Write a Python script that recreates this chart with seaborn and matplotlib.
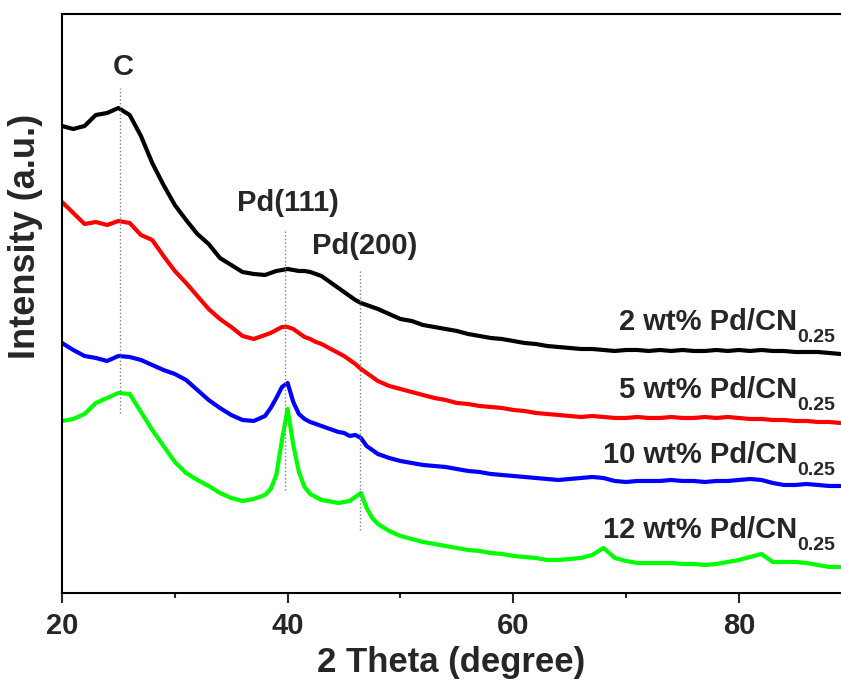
import numpy as np
import pandas as pd
import matplotlib
matplotlib.use('Agg')
import matplotlib.pyplot as plt
import seaborn as sns

# 2 theta grid (degree)
two_theta = ([float(v) for v in range(20, 38)]
             + [38 + 0.5 * i for i in range(21)]
             + [float(v) for v in range(49, 90)])

# intensities (a.u.)
pd2 = [474, 471, 474, 485, 487, 492, 485, 464, 437, 415, 395, 380, 366, 356, 342, 335, 328, 326,
       325, 327, 329, 330, 331, 330, 329, 329, 328, 326, 324, 320, 316, 312, 308, 304, 300, 297, 295, 293, 291,
       286, 281, 279, 275, 273, 271, 269, 266, 264, 262, 261, 259, 257, 256, 254, 253, 252, 251, 251, 250,
       249, 250, 250, 249, 250, 249, 250, 249, 249, 250, 249, 250, 249, 250, 249, 249, 248, 248, 248, 247, 246]
pd5 = [398, 387, 376, 378, 375, 379, 377, 365, 360, 344, 329, 317, 304, 291, 281, 273, 264, 261,
       265, 267, 270, 273, 273, 271, 267, 263, 261, 258, 256, 253, 250, 247, 244, 240, 236, 231, 227, 223, 219,
       214, 211, 208, 205, 202, 200, 197, 196, 194, 193, 192, 190, 189, 187, 186, 185, 184, 183, 184, 183,
       182, 182, 183, 182, 182, 183, 182, 182, 183, 182, 183, 182, 181, 181, 180, 180, 179, 179, 178, 178, 177]
pd10 = [257, 250, 244, 242, 239, 244, 243, 240, 235, 230, 226, 220, 210, 200, 192, 185, 180, 179,
        184, 192, 202, 213, 217, 198, 186, 181, 178, 176, 174, 172, 170, 168, 167, 164, 165, 162, 154, 150, 146,
        142, 139, 137, 135, 134, 133, 131, 129, 128, 126, 125, 124, 123, 122, 121, 120, 121, 122, 123, 122,
        119, 118, 119, 119, 119, 120, 119, 119, 118, 119, 119, 120, 121, 120, 117, 115, 115, 116, 115, 114, 114]
pd12 = [179, 181, 186, 197, 202, 207, 206, 188, 170, 154, 138, 127, 120, 114, 107, 102, 99, 101,
        105, 111, 125, 160, 191, 155, 128, 113, 106, 103, 100, 99, 98, 97, 98, 99, 103, 107, 92, 82, 76,
        69, 64, 61, 58, 56, 54, 52, 50, 49, 47, 46, 44, 43, 42, 40, 40, 41, 42, 45, 52,
        42, 39, 37, 37, 37, 37, 36, 36, 35, 36, 38, 40, 43, 46, 38, 38, 38, 37, 35, 33, 33]

samples = ['2 wt% Pd/CN', '5 wt% Pd/CN', '10 wt% Pd/CN', '12 wt% Pd/CN']
subscript = '0.25'
colors = ['#000000', '#ff0000', '#0000ff', '#00ff00']
label_y = [270, 202, 137, 62]

# reference peaks: name, position, label height, dotted line span
peak_names = ['C', 'Pd(111)', 'Pd(200)']
peak_pos = [25.1, 39.8, 46.4]
peak_label_x = [25.4, 40.0, 46.8]
peak_label_y = [533, 397, 354]
peak_line_top = [512, 370, 330]
peak_line_bottom = [187, 110, 70]

df = pd.DataFrame({'two_theta': two_theta * 4,
                   'intensity': pd2 + pd5 + pd10 + pd12,
                   'sample': np.repeat(samples, len(two_theta))})

sns.set_style('ticks')
plt.rcParams['font.family'] = 'Liberation Sans'
plt.rcParams['font.weight'] = 'bold'

fig = plt.figure(figsize=(8.41, 6.86), dpi=100)
ax = fig.add_axes([0.0737, 0.1356, 0.9263, 0.844])

sns.lineplot(data=df, x='two_theta', y='intensity', hue='sample',
             palette=colors, linewidth=3, legend=False, ax=ax, sort=False)

for name, p, lx, ly, top, bot in zip(peak_names, peak_pos, peak_label_x, peak_label_y,
                                      peak_line_top, peak_line_bottom):
    ax.plot([p, p], [bot, top], color='gray', linestyle=':', linewidth=1)
    ax.text(lx, ly, name, ha='center', va='center', fontsize=21, fontweight='bold')

# sample names, with the subscript as its own smaller text
for s, y in zip(samples, label_y):
    ax.annotate(s, xy=(88.5, y), xytext=(-27, 0), textcoords='offset points',
                ha='right', va='baseline', fontsize=21, fontweight='bold')
    ax.annotate(subscript, xy=(88.5, y), xytext=(0, -8.5), textcoords='offset points',
                ha='right', va='baseline', fontsize=14, fontweight='bold')

ax.set_xlim(20, 89.05)
ax.set_ylim(7, 586)
ax.set_xticks([20, 40, 60, 80])
ax.set_xticks([30, 50, 70], minor=True)
ax.set_yticks([])
ax.tick_params(axis='x', which='major', direction='out', length=7, width=1.5,
               labelsize=21, pad=7)
ax.tick_params(axis='x', which='minor', direction='out', length=3.5, width=1.5)
for lab in ax.get_xticklabels():
    lab.set_fontweight('bold')

for side in ['left', 'bottom', 'top']:
    ax.spines[side].set_linewidth(1.5)
    ax.spines[side].set_color('black')
ax.spines['right'].set_visible(False)

ax.set_xlabel('2 Theta (degree)', fontsize=25, fontweight='bold', labelpad=4)
ax.set_ylabel('Intensity (a.u.)', fontsize=26, fontweight='bold')
ax.yaxis.set_label_coords(-0.025, 0.615)

fig.savefig('out.png', dpi=100)
